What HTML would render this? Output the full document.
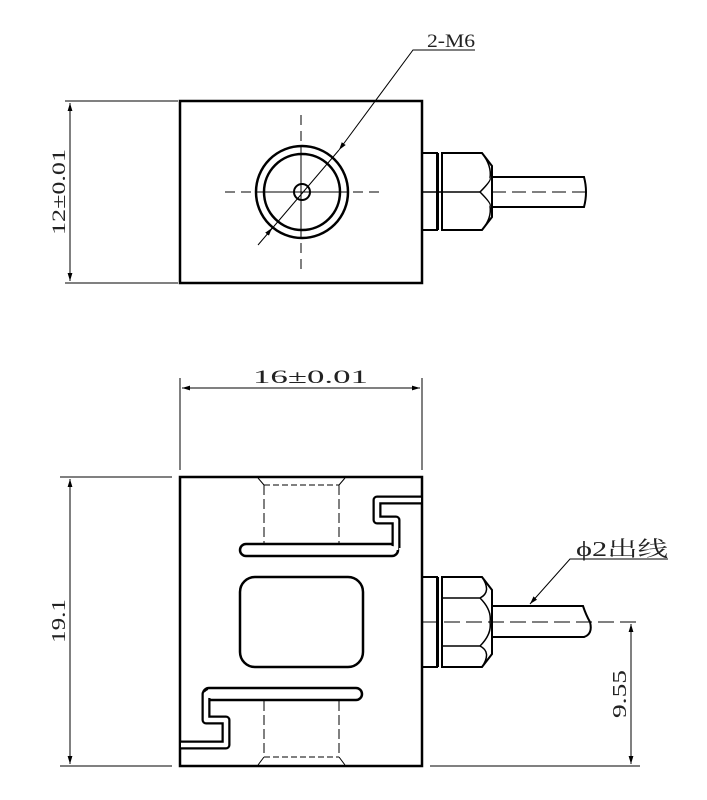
<!DOCTYPE html>
<html><head><style>
html,body{margin:0;padding:0;background:#fff;}
svg{display:block;}
text{font-family:"Liberation Serif","Noto Serif CJK SC",serif;fill:#222;}
</style></head><body>
<svg width="707" height="800" viewBox="0 0 707 800" xmlns="http://www.w3.org/2000/svg">
<defs>
<marker id="a" viewBox="0 0 10 10" refX="10" refY="5" markerWidth="8" markerHeight="8" orient="auto-start-reverse"><path d="M0,2 L10,5 L0,8z" fill="#000"/></marker>
</defs>
<g fill="none" stroke="#000">
<rect x="180" y="101" width="242" height="182" stroke-width="2.5"/>
<circle cx="302" cy="192" r="46" stroke-width="2.5"/>
<circle cx="302" cy="192" r="38" stroke-width="2.5"/>
<circle cx="302" cy="192" r="8" stroke-width="2"/>
<line x1="225" y1="192" x2="380" y2="192" stroke-width="1" stroke-dasharray="10,6"/>
<line x1="301" y1="115" x2="301" y2="270" stroke-width="1" stroke-dasharray="10,6"/>
<line x1="265" y1="192" x2="339" y2="192" stroke-width="1"/>
<line x1="301" y1="155" x2="301" y2="230" stroke-width="1"/>
<polyline points="475,50 413,50 339,150" stroke-width="1" marker-end="url(#a)"/>
<line x1="339" y1="150" x2="258" y2="245" stroke-width="1"/>
<line x1="272" y1="228" x2="268" y2="233" stroke-width="1" marker-start="url(#a)"/>
<rect x="422" y="153" width="15" height="77" stroke-width="2"/>
<line x1="438" y1="153" x2="438" y2="230" stroke-width="2"/>
<path d="M442,153 H482 L492,166 V217 L482,230 H442 Z" stroke-width="2"/>
<path d="M482,153 Q492,166 490,178 M480,192 Q492,180 490,178 M480,192 Q492,204 490,206 M482,230 Q492,218 490,206" stroke-width="1.5"/>
<line x1="422" y1="192" x2="480" y2="192" stroke-width="1.5"/>
<path d="M492,177 H584 Q588,192 584,207 H492" stroke-width="2"/>
<line x1="492" y1="192" x2="590" y2="192" stroke-width="1" stroke-dasharray="14,6"/>
<line x1="65" y1="101" x2="178" y2="101" stroke-width="1"/>
<line x1="65" y1="283" x2="178" y2="283" stroke-width="1"/>
<line x1="70" y1="103" x2="70" y2="281" stroke-width="1" marker-start="url(#a)" marker-end="url(#a)"/>

<rect x="180" y="477" width="242" height="289" stroke-width="2.5"/>
<path d="M258,478 L264,485 M345,478 L339,485" stroke-width="1"/>
<line x1="264" y1="485" x2="339" y2="485" stroke-width="1" stroke-dasharray="6,3"/>
<line x1="264" y1="485" x2="264" y2="543" stroke-width="1" stroke-dasharray="10,4"/>
<line x1="339" y1="485" x2="339" y2="543" stroke-width="1" stroke-dasharray="10,4"/>
<path d="M258,765 L264,757 M345,765 L339,757" stroke-width="1"/>
<line x1="264" y1="757" x2="339" y2="757" stroke-width="1" stroke-dasharray="6,3"/>
<line x1="264" y1="701" x2="264" y2="757" stroke-width="1" stroke-dasharray="10,4"/>
<line x1="339" y1="701" x2="339" y2="757" stroke-width="1" stroke-dasharray="10,4"/>
<polyline points="421,500 377,500 377,520 396,520 396,548" stroke-width="9" stroke-linejoin="round"/>
<rect x="240" y="544" width="158" height="12" rx="6" stroke-width="2.5"/>
<polyline points="421,500 377,500 377,520 396,520 396,550" stroke="#fff" stroke-width="4.5" stroke-linejoin="round"/>
<rect x="242" y="546" width="154" height="8" rx="4" fill="#fff" stroke="none"/>
<polyline points="208,694 206,694 206,720 226,720 226,745 181,745" stroke-width="9" stroke-linejoin="round"/>
<rect x="203" y="688" width="159" height="12" rx="6" stroke-width="2.5"/>
<polyline points="210,694 206,694 206,720 226,720 226,745 181,745" stroke="#fff" stroke-width="4.5" stroke-linejoin="round"/>
<rect x="205" y="690" width="155" height="8" rx="4" fill="#fff" stroke="none"/>
<rect x="240" y="577" width="123" height="90" rx="15" stroke-width="2.5"/>
<rect x="422" y="577" width="15" height="90" stroke-width="2"/>
<line x1="438" y1="577" x2="438" y2="667" stroke-width="2"/>
<path d="M442,577 H482 L492,590 V654 L482,667 H442 Z" stroke-width="2"/>
<path d="M442,598 H480 Q492,592 482,577 M480,598 Q492,610 490,622 Q492,634 480,646 M442,646 H480 Q492,652 482,667" stroke-width="1.5"/>
<path d="M492,606 H583 Q586,615 590,622 Q593,634 584,637 H492" stroke-width="2"/>
<line x1="422" y1="622" x2="640" y2="622" stroke-width="1" stroke-dasharray="16,6"/>
<line x1="180" y1="378" x2="180" y2="470" stroke-width="1"/>
<line x1="422" y1="378" x2="422" y2="470" stroke-width="1"/>
<line x1="182" y1="388" x2="420" y2="388" stroke-width="1" marker-start="url(#a)" marker-end="url(#a)"/>
<line x1="60" y1="477" x2="172" y2="477" stroke-width="1"/>
<line x1="60" y1="766" x2="172" y2="766" stroke-width="1"/>
<line x1="70" y1="479" x2="70" y2="764" stroke-width="1" marker-start="url(#a)" marker-end="url(#a)"/>
<line x1="430" y1="766" x2="640" y2="766" stroke-width="1"/>
<line x1="631" y1="624" x2="631" y2="764" stroke-width="1" marker-start="url(#a)" marker-end="url(#a)"/>
<polyline points="668,559 570,559 530,604" stroke-width="1" marker-end="url(#a)"/>
</g>
<text x="427" y="47" font-size="19" textLength="48" lengthAdjust="spacingAndGlyphs">2-M6</text>
<text x="253" y="383" font-size="19" textLength="115" lengthAdjust="spacingAndGlyphs">16±0.01</text>
<text font-size="19" transform="translate(65,192) rotate(-90)" text-anchor="middle" textLength="86" lengthAdjust="spacingAndGlyphs">12±0.01</text>
<text font-size="20" transform="translate(65,621) rotate(-90)" text-anchor="middle" textLength="44" lengthAdjust="spacingAndGlyphs">19.1</text>
<text font-size="20" transform="translate(626,694) rotate(-90)" text-anchor="middle" textLength="48" lengthAdjust="spacingAndGlyphs">9.55</text>
<text x="576" y="556" font-size="21" textLength="92" lengthAdjust="spacingAndGlyphs">ϕ2出线</text>
</svg>
</body></html>
